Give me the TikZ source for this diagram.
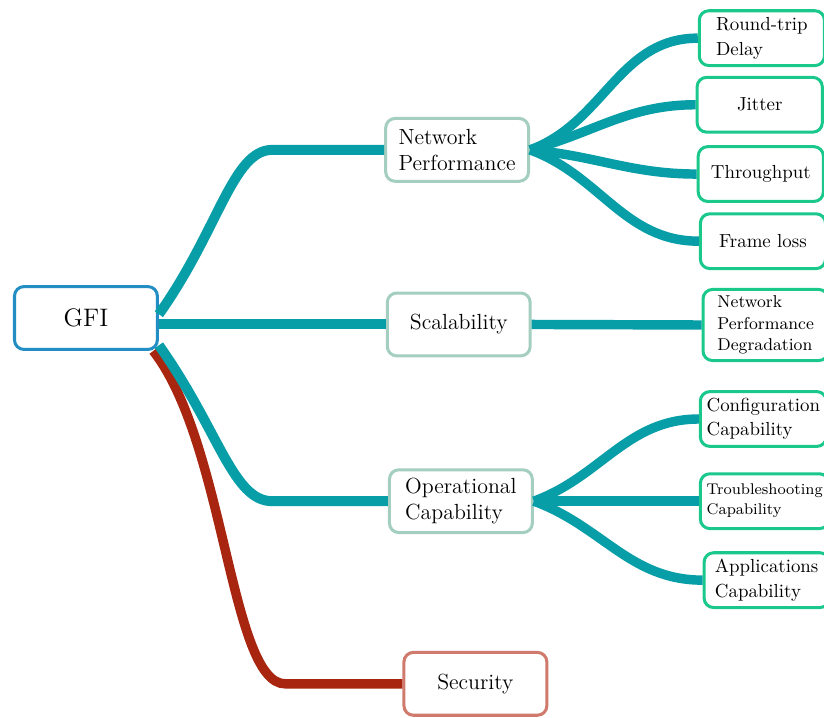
\documentclass[tikz,border=0pt]{standalone}
\usepackage{xcolor}
\usepackage{tikz}
\usetikzlibrary{positioning}
\definecolor{branchteal}{RGB}{8,158,168}
\definecolor{secred}{RGB}{168,38,16}
\definecolor{rootblue}{RGB}{34,142,196}
\definecolor{topicgray}{RGB}{164,206,192}
\definecolor{secsalmon}{RGB}{207,122,108}
\definecolor{leafgreen}{RGB}{26,200,140}
\tikzstyle{block} = [rectangle, draw, line width=1.6pt, fill=white, align=left, rounded corners=5pt, minimum width=2.66cm, minimum height=1.17cm]
\tikzstyle{rootblock} = [block, draw=rootblue, font=\fontsize{13.4}{16}\selectfont]
\tikzstyle{topicblock} = [block, draw=topicgray, font=\fontsize{11.6}{14}\selectfont]
\tikzstyle{leafblock} = [block, draw=leafgreen, anchor=west, minimum width=2.33cm, minimum height=1.02cm, font=\fontsize{10}{13}\selectfont]
\tikzstyle{branch} = [draw, line width=5.3pt, color=branchteal]
\tikzstyle{twig} = [draw, line width=5pt, color=branchteal]

\begin{document}
\begin{tikzpicture}
\useasboundingbox (0, 0) rectangle (15.34, -13.35);

%% root and topics
\node [rootblock] at (1.6, -5.92) (gfi) {GFI};
\node [topicblock] at (8.51, -2.79) (np) {Network\\Performance};
\node [topicblock] at (8.54, -6.04) (scal) {Scalability};
\node [topicblock] at (8.58, -9.33) (opcap) {Operational\\Capability};
\node [topicblock, draw=secsalmon] at (8.85, -12.73) (sec) {Security};

%% leaves
\node [leafblock] at (12.99, -0.71) (rtd) {Round-trip\\Delay};
\node [leafblock] at (12.95, -1.95) (jitter) {Jitter};
\node [leafblock] at (12.97, -3.24) (thru) {Throughput};
\node [leafblock] at (13.01, -4.49) (floss) {Frame loss};
\node [leafblock, minimum height=1.17cm, font=\fontsize{9.1}{11.4}\selectfont] at (13.06, -6.05) (npd) {Network\\Performance\\Degradation};
\node [leafblock] at (13.01, -7.8) (config) {Configuration\\Capability};
\node [leafblock, font=\fontsize{8.2}{10.6}\selectfont] at (13.01, -9.33) (trouble) {Troubleshooting\\Capability};
\node [leafblock] at (13.08, -10.8) (apps) {Applications\\Capability};

\coordinate (npbend) at (5.07, -2.79);
\coordinate (opbend) at (5.07, -9.33);
\coordinate (secbend) at (5.31, -12.73);

%% main branches
\path [branch, color=secred, line width=5pt] ([xshift=-3pt]gfi.south east) .. controls +(1.34,-1.71) and +(-1.02,0) .. (secbend) -- (sec.west);
\path [branch] ([yshift=2pt]gfi.east) .. controls +(1.12,1.58) and +(-0.74,0) .. (npbend) -- (np.west);
\path [branch] ([yshift=3pt]gfi.south east) .. controls +(1.12,-1.58) and +(-0.74,0) .. (opbend) -- (opcap.west);
\path [branch] (gfi.east |- scal.west) -- (scal.west);

%% twigs
\path [twig, out=20, in=180] (np.east) to (rtd.west);
\path [twig, out=15, in=180] (np.east) to (jitter.west);
\path [twig, out=-5, in=180] (np.east) to (thru.west);
\path [twig, out=-20, in=180] (np.east) to (floss.west);
\path [twig] (scal.east) -- (npd.west);
\path [twig, out=20, in=180] (opcap.east) to (config.west);
\path [twig] (opcap.east) -- (trouble.west);
\path [twig, out=-20, in=180] (opcap.east) to (apps.west);

\end{tikzpicture}
\end{document}
